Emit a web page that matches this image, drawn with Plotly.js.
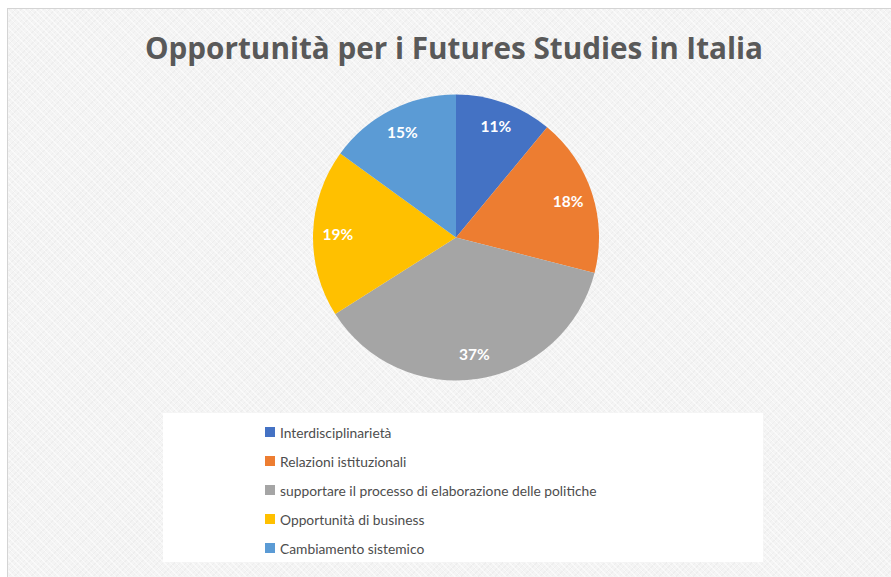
<!DOCTYPE html>
<html>
<head>
<meta charset="utf-8">
<script src="https://cdn.plot.ly/plotly-3.0.1.min.js"></script>
<style>
  html, body { margin: 0; padding: 0; background: #ffffff; }
  #frame {
    position: absolute; left: 7px; top: 8px; width: 884px; height: 569px;
    box-sizing: border-box;
    border-left: 1px solid #d4d4d4; border-top: 1px solid #d4d4d4;
    background-color: #f4f4f4;
    background-image: repeating-linear-gradient(45deg, rgba(255,255,255,0.55) 0px, rgba(255,255,255,0.55) 1px, transparent 1px, transparent 4px),
                      repeating-linear-gradient(-45deg, rgba(230,230,230,0.45) 0px, rgba(230,230,230,0.45) 1px, transparent 1px, transparent 4px);
  }
  #chart { position: absolute; left: 0; top: 0; width: 891px; height: 577px; }
</style>
</head>
<body>
<div id="frame"></div>
<div id="chart"></div>
<script>
const chartTitle = "Opportunità per i Futures Studies in Italia";
const categories = [
  "Interdisciplinarietà",
  "Relazioni istituzionali",
  "supportare il processo di elaborazione delle politiche",
  "Opportunità di business",
  "Cambiamento sistemico"
];
const shares = [11, 18, 37, 19, 15];
const sliceColors = ["#4472C4", "#ED7D31", "#A5A5A5", "#FFC000", "#5B9BD5"];

const W = 891, H = 577;
const px = x => x / W;
const py = y => 1 - y / H;
const pieDomain = { x: [px(313), px(599)], y: [py(381), py(94)] };

// Filled pie (no text)
const pie = {
  type: "pie",
  labels: categories,
  values: shares,
  sort: false,
  direction: "clockwise",
  rotation: 0,
  marker: { colors: sliceColors, line: { color: "#ffffff", width: 0 } },
  textinfo: "none",
  showlegend: false,
  hoverinfo: "label+percent",
  domain: pieDomain
};

// Same data, transparent ring on top, only to place the percentage labels toward the rim
const pieLabels = {
  type: "pie",
  labels: categories,
  values: shares,
  sort: false,
  direction: "clockwise",
  rotation: 0,
  hole: 0.65,
  marker: { colors: sliceColors.map(() => "rgba(0,0,0,0)"), line: { width: 0 } },
  texttemplate: "%{percent:.0%}",
  textposition: "inside",
  insidetextorientation: "horizontal",
  textfont: { family: "Lato, 'Open Sans', sans-serif", size: 15.5, color: "#ffffff", weight: "bold" },
  showlegend: false,
  hoverinfo: "none",
  domain: pieDomain
};

// Legend (square swatch + text) built from the arrays
const shapes = [{
  type: "rect", xref: "paper", yref: "paper",
  x0: px(163), x1: px(763), y0: py(562), y1: py(413),
  fillcolor: "#ffffff", line: { width: 0 }, layer: "below"
}];
const annotations = [];
const legTop = 432, legStep = 29;
categories.forEach((c, i) => {
  const yc = legTop + i * legStep;
  shapes.push({
    type: "rect", xref: "paper", yref: "paper",
    x0: px(265), x1: px(275), y0: py(yc + 5), y1: py(yc - 5),
    fillcolor: sliceColors[i], line: { width: 0 }
  });
  annotations.push({
    xref: "paper", yref: "paper", x: px(278), y: py(yc),
    xanchor: "left", yanchor: "middle", showarrow: false,
    text: c, font: { family: "Lato, sans-serif", size: 13.8, color: "#4d4d4d" }
  });
});

const layout = {
  width: W, height: H,
  margin: { l: 0, r: 0, t: 0, b: 0 },
  paper_bgcolor: "rgba(0,0,0,0)",
  plot_bgcolor: "rgba(0,0,0,0)",
  title: {
    text: "<b>" + chartTitle + "</b>",
    x: px(454), xanchor: "center",
    y: py(49), yanchor: "middle",
    font: { family: "'Open Sans', sans-serif", size: 29.7, color: "#595959" }
  },
  shapes: shapes,
  annotations: annotations,
  showlegend: false
};

Plotly.newPlot("chart", [pie, pieLabels], layout, { displayModeBar: false });
</script>
</body>
</html>
